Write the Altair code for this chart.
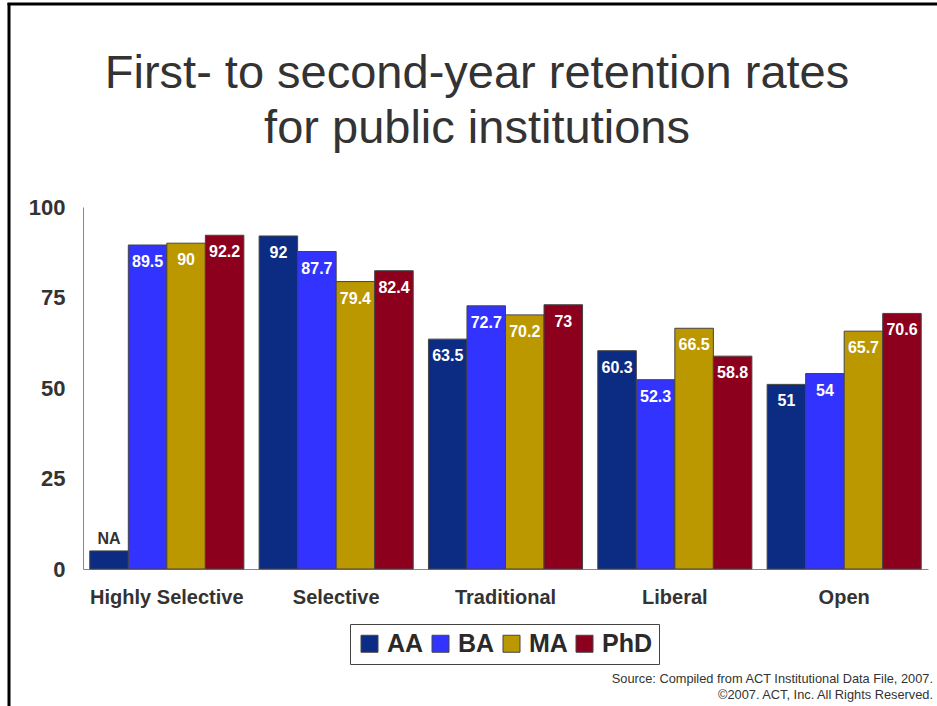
import altair as alt
import pandas as pd

categories = ["Highly Selective", "Selective", "Traditional", "Liberal", "Open"]
degrees = ["AA", "BA", "MA", "PhD"]
aa = [None, 92, 63.5, 60.3, 51]
ba = [89.5, 87.7, 72.7, 52.3, 54]
ma = [90, 79.4, 70.2, 66.5, 65.7]
phd = [92.2, 82.4, 73, 58.8, 70.6]
na_stub = 5  # height of the stub bar drawn where a value is not available
colors = ["#0C2C84", "#3333FF", "#BB9700", "#8C001E"]
title_lines = ["First- to second-year retention rates", "for public institutions"]
source_lines = ["Source: Compiled from ACT Institutional Data File, 2007.",
                "\u00a92007. ACT, Inc. All Rights Reserved."]

FONT = "Liberation Sans"

rows = []
for deg, vals in zip(degrees, [aa, ba, ma, phd]):
    for cat, v in zip(categories, vals):
        if v is None:
            rows.append({"category": cat, "degree": deg, "value": na_stub, "label": "NA", "na": True})
        else:
            rows.append({"category": cat, "degree": deg, "value": v,
                         "label": f"{v:g}", "na": False})
df = pd.DataFrame(rows)

W, H = 845, 362

x_enc = alt.X("category:N", sort=categories, title=None,
              scale=alt.Scale(paddingInner=0.09, paddingOuter=0.04),
              axis=alt.Axis(labelAngle=0, ticks=False, domainColor="#888", domainWidth=1,
                            labelFontSize=20, labelFontWeight="bold", labelColor="#333",
                            labelFont=FONT, labelPadding=18))
xo = alt.XOffset("degree:N", sort=degrees)
y_enc = alt.Y("value:Q", title=None,
              scale=alt.Scale(domain=[0, 100], nice=False),
              axis=alt.Axis(values=[0, 25, 50, 75, 100], ticks=False, grid=False,
                            domainColor="#888", domainWidth=1, labelFontSize=22,
                            labelFontWeight="bold", labelColor="#333", labelFont=FONT,
                            labelPadding=18))

base = alt.Chart(df)

bars = base.mark_bar(stroke="#444", strokeWidth=1).encode(
    x=x_enc, xOffset=xo, y=y_enc,
    color=alt.Color("degree:N", sort=degrees,
                    scale=alt.Scale(domain=degrees, range=colors),
                    legend=alt.Legend(title=None, orient="none", legendX=267, legendY=417,
                                      direction="horizontal", columns=4,
                                      symbolType="square", symbolSize=289,
                                      symbolStrokeColor="#444", symbolStrokeWidth=1,
                                      labelFontSize=25, labelFontWeight="bold",
                                      labelColor="#2a2a2a", labelFont=FONT, labelOffset=5,
                                      columnPadding=4, padding=7,
                                      strokeColor="#444", fillColor="white")),
)

vlabels = base.transform_filter("!datum.na").mark_text(
    color="white", fontWeight="bold", fontSize=16, font=FONT, baseline="top", dy=9
).encode(x=x_enc, xOffset=xo, y=y_enc, text="label:N")

nalabels = base.transform_filter("datum.na").mark_text(
    color="#333", fontWeight="bold", fontSize=16, font=FONT, baseline="bottom", dy=-4
).encode(x=x_enc, xOffset=xo, y=y_enc, text="label:N")


def text_line(txt, x, y, **kw):
    return alt.Chart(pd.DataFrame({"t": [txt]})).mark_text(
        font=FONT, baseline="alphabetic", **kw
    ).encode(x=alt.value(x), y=alt.value(y), text="t:N")


title1 = text_line(title_lines[0], 394, -119, fontSize=47, color="#333", align="center")
title2 = text_line(title_lines[1], 394, -64, fontSize=47, color="#333", align="center")
src1 = text_line(source_lines[0], 850, 476, fontSize=12.8, color="#333", align="right")
src2 = text_line(source_lines[1], 850, 492, fontSize=12.8, color="#333", align="right")

frame_left = alt.Chart(pd.DataFrame({"a": [0]})).mark_rule(color="black", strokeWidth=3).encode(
    x=alt.value(-74), y=alt.value(-204), y2=alt.value(499))
frame_top = alt.Chart(pd.DataFrame({"a": [0]})).mark_rule(color="black", strokeWidth=3).encode(
    x=alt.value(-75.5), x2=alt.value(854), y=alt.value(-203))

chart = alt.layer(bars, vlabels, nalabels, title1, title2, src1, src2,
                  frame_left, frame_top).properties(
    width=W, height=H,
    autosize=alt.AutoSizeParams(type="none"),
    padding={"left": 83, "top": 207, "right": 9, "bottom": 137},
    background="white",
).configure_view(stroke=None)

chart.save("out.html", embed_options={"renderer": "svg", "actions": False})
